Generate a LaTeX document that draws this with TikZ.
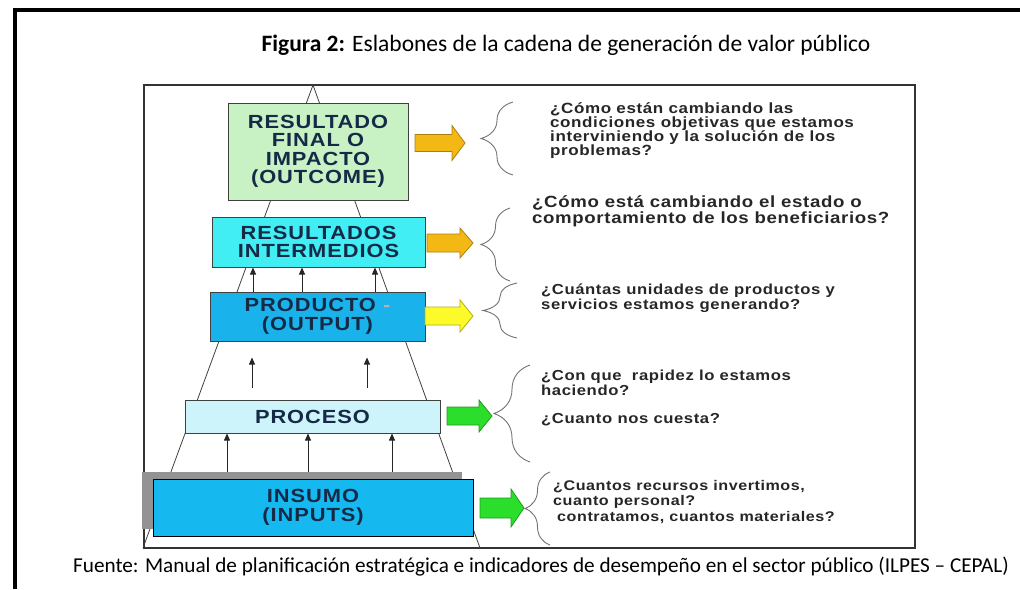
\documentclass[tikz,border=0pt]{standalone}
\usepackage{fontspec}
\setmainfont{Carlito}
\newfontfamily\boxfont[FakeStretch=1.15,LetterSpace=5]{Liberation Sans}
\newfontfamily\askfont[FakeStretch=1.15,LetterSpace=4]{Liberation Sans}
\usetikzlibrary{arrows.meta,calc,shadows,decorations.pathreplacing}
\definecolor{boxnavy}{RGB}{22,42,72}
\definecolor{impactgreen}{RGB}{200,242,196}
\definecolor{midcyan}{RGB}{64,238,244}
\definecolor{outblue}{RGB}{26,178,234}
\definecolor{procpale}{RGB}{204,244,250}
\definecolor{inblue}{RGB}{22,184,240}
\definecolor{arrgold}{RGB}{244,184,20}
\definecolor{arryellow}{RGB}{252,250,40}
\definecolor{arrgreen}{RGB}{44,222,44}

\begin{document}
\begin{tikzpicture}[x=1pt,y=-1pt,>={Triangle[width=6pt,length=7pt]},
    stage/.style={draw=black!75,line width=1pt,align=center,inner sep=0pt,
        font=\boxfont\bfseries\fontsize{19}{18.5}\selectfont,text=boxnavy},
    ask/.style={anchor=north west,align=left,inner sep=0pt,
        font=\askfont\bfseries\fontsize{14.5}{15}\selectfont,text=black!85},
    stem/.style={line width=0.8pt,black!85},
    curly/.style={draw=black!55,line width=0.9pt,decorate}]
    \useasboundingbox (0,0) rectangle (1020,589);

    % Frames
    \draw[line width=4pt] (15,589) -- (15,10) -- (1020,10);
    \draw[line width=1.3pt,black!80] (144,85) rectangle (915,548);

    % Title and source
    \node (title) at (566,45) {\fontsize{23.5}{26}\selectfont\textbf{Figura 2:} Eslabones de la cadena de generación de valor público};
    \node (source) at (541,567) {\fontsize{21.2}{24}\selectfont Fuente: Manual de planificación estratégica e indicadores de desempeño en el sector público (ILPES -- CEPAL)};

    % Pyramid
    \coordinate (apex) at (313,85);
    \coordinate (baseL) at (143,548);
    \coordinate (baseR) at (480,548);
    \draw[line width=0.8pt,black!75] (baseL) -- (apex) -- (baseR);

    % Stages
    \node[stage,fill=impactgreen,minimum width=180,minimum height=97] (outcome) at (318,151.5)
        {RESULTADO\\FINAL O\\IMPACTO\\(OUTCOME)};
    \node[stage,fill=midcyan,minimum width=213,minimum height=50] (intermed) at (318.5,242)
        {RESULTADOS\\INTERMEDIOS};
    \node[stage,fill=outblue,minimum width=215,minimum height=49] (output) at (317.5,316.5)
        {PRODUCTO {\color{black!30}-}\\(OUTPUT)};
    \node[stage,fill=procpale,minimum width=255,minimum height=33] (proceso) at (312.5,416.5)
        {PROCESO};
    \node[stage,fill=inblue,draw=black,minimum width=320,minimum height=57,
        drop shadow={shadow xshift=-11pt,shadow yshift=7pt,fill=gray!85,opacity=1}] (insumo) at (313,507.5)
        {INSUMO\\(INPUTS)};

    % Small arrows between stages
    \foreach \xp in {253,302,375}
        \draw[->,stem] (output.north -| \xp,0) -- (intermed.south -| \xp,0);
    \foreach \xp in {252,367}
        \draw[->,stem,shorten <=12pt,shorten >=16pt] (proceso.north -| \xp,0) -- (output.south -| \xp,0);
    \foreach \xp in {227,308,392}
        \draw[->,stem,shorten <=7pt] (insumo.north -| \xp,0) -- (proceso.south -| \xp,0);

    % Block arrows
    \foreach \xa/\yc/\len/\bh/\hh/\col in {415/143/50/8.5/17.5/arrgold,427/243/46/9/15/arrgold,
        425/316/48/9/16/arryellow,447/416/45/9/16/arrgreen,480/508/44/10/19/arrgreen}
        \filldraw[fill=\col,draw=\col!70!black,line width=0.8pt]
            (\xa,\yc-\bh) -- (\xa+\len-13,\yc-\bh) -- (\xa+\len-13,\yc-\hh) -- (\xa+\len,\yc)
            -- (\xa+\len-13,\yc+\hh) -- (\xa+\len-13,\yc+\bh) -- (\xa,\yc+\bh) -- cycle;

    % Braces
    \foreach \xe/\yt/\yb/\amp in {513/102/175/32,510/208/281/29,517/283/338/34,530/365/462/36,550/472/545/25}
        \draw[curly,decoration={brace,amplitude=\amp pt}] (\xe,\yb) -- (\xe,\yt);

    % Questions
    \node[ask,font=\askfont\bfseries\fontsize{14.8}{14.3}\selectfont] (q1) at (550,102)
        {¿Cómo están cambiando las\\condiciones objetivas que estamos\\interviniendo y la solución de los\\problemas?};
    \node[ask,font=\askfont\bfseries\fontsize{16.2}{16.5}\selectfont] (q2) at (532,195)
        {¿Cómo está cambiando el estado o\\comportamiento de los beneficiarios?};
    \node[ask] (q3) at (541,284) {¿Cuántas unidades de productos y\\servicios estamos generando?};
    \node[ask] (q4) at (541,370) {¿Con que\ \ rapidez lo estamos\\haciendo?\\[13pt]¿Cuanto nos cuesta?};
    \node[ask,font=\askfont\bfseries\fontsize{14}{15.5}\selectfont] (q5) at (553,480)
        {¿Cuantos recursos invertimos,\\cuanto personal?\\\hspace{4pt}contratamos, cuantos materiales?};
\end{tikzpicture}
\end{document}
